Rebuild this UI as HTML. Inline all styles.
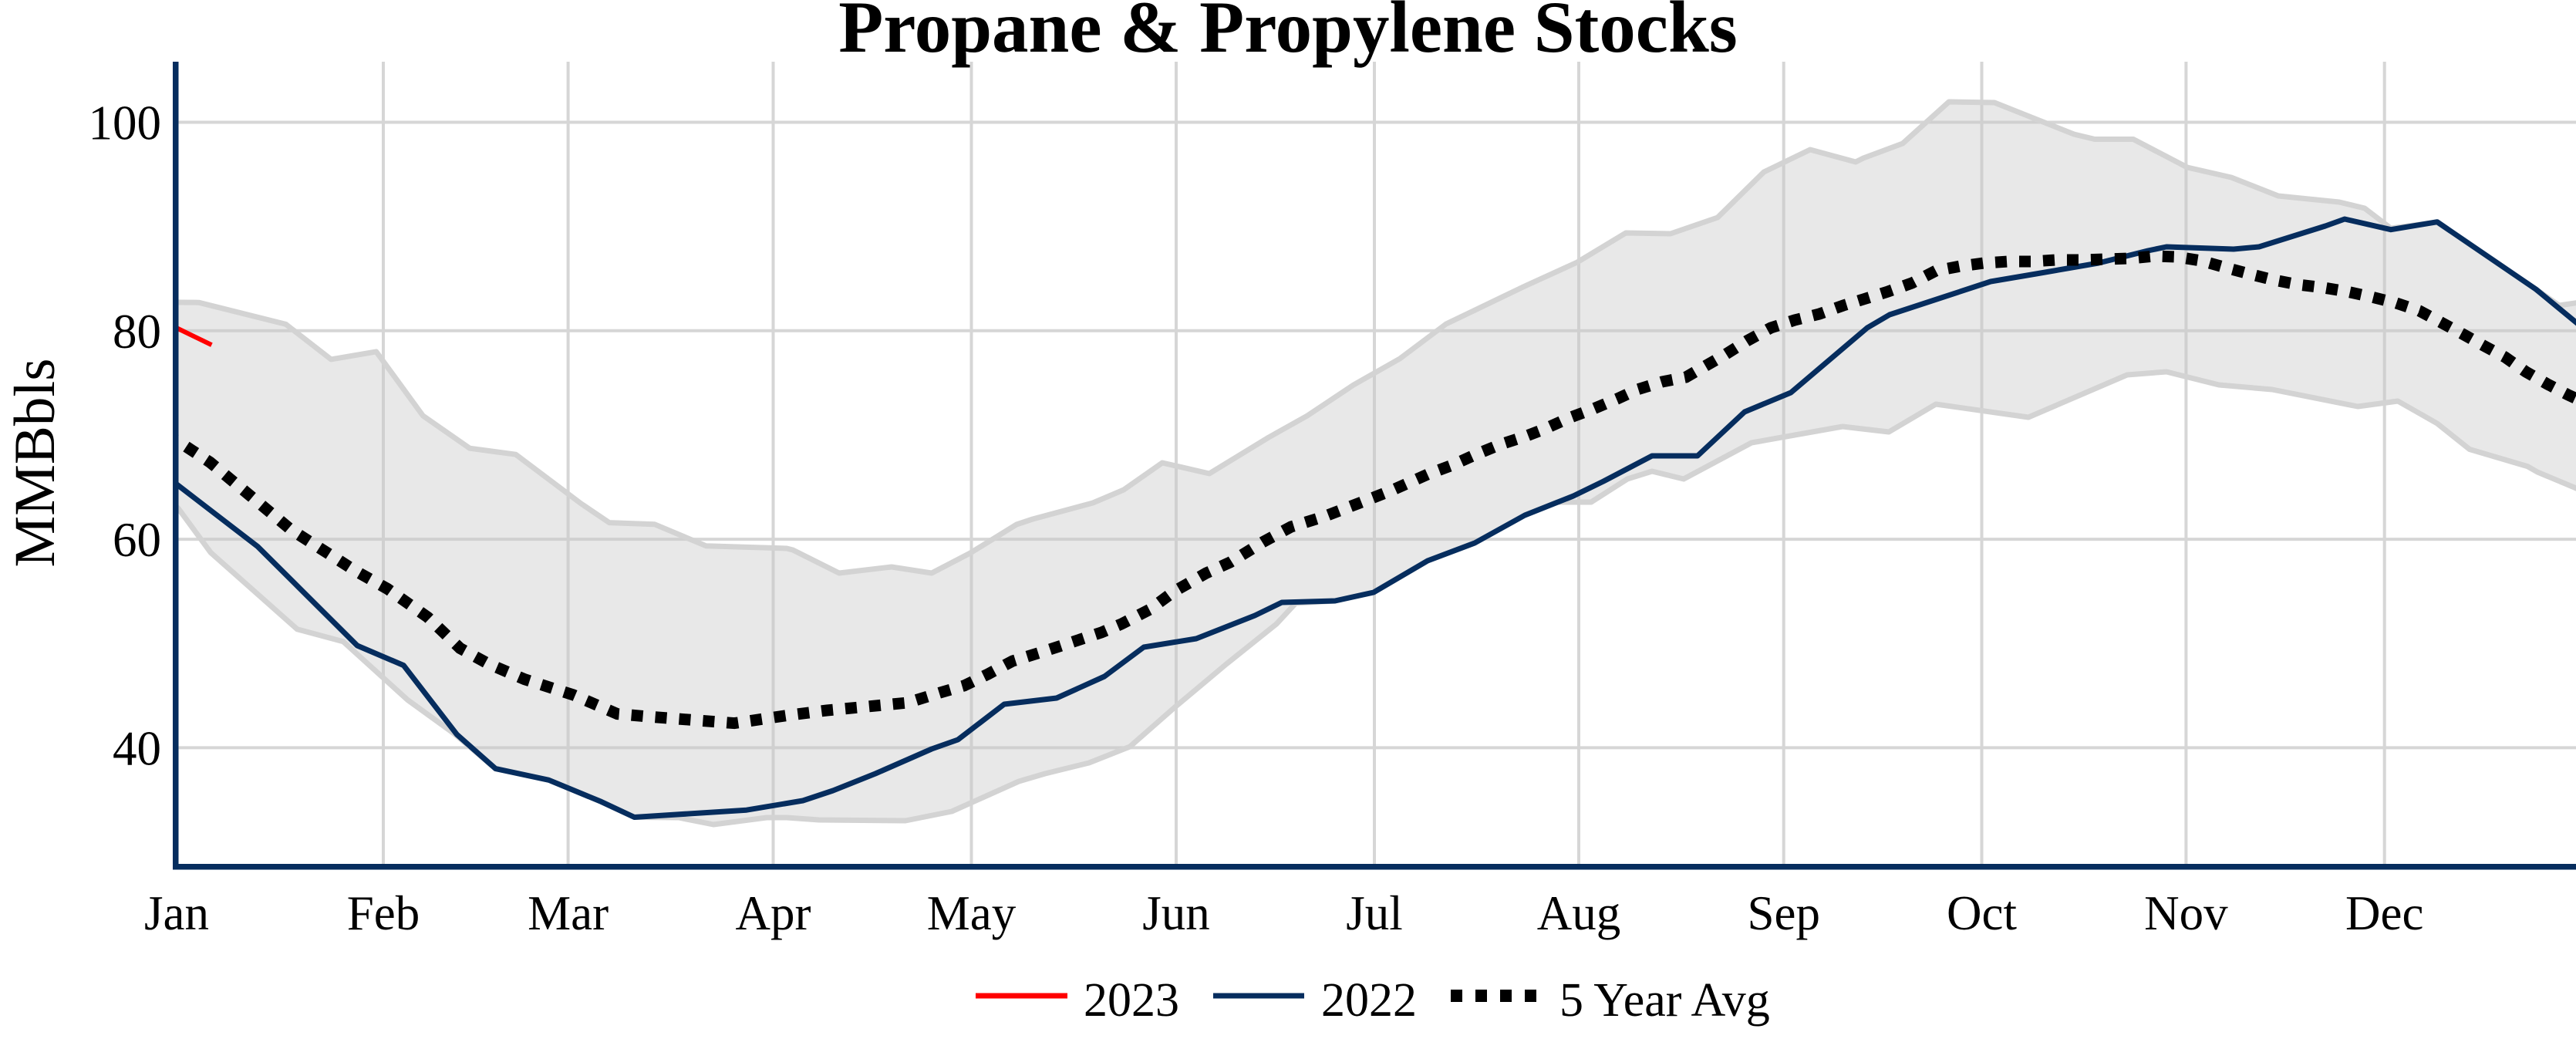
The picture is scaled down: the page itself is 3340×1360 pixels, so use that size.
<!DOCTYPE html>
<html>
<head>
<meta charset="utf-8">
<style>
html,body{margin:0;padding:0;background:#fff;}
svg{display:block;}
text{font-family:"Liberation Serif","Times New Roman",serif;fill:#000;}
</style>
</head>
<body>
<svg width="3340" height="1360" viewBox="0 0 3340 1360" xmlns="http://www.w3.org/2000/svg">
<defs>
<clipPath id="pa"><rect x="231.5" y="80" width="3108.5" height="1040"/></clipPath>
</defs>
<rect x="0" y="0" width="3340" height="1360" fill="#fff"/>

<!-- title -->
<text x="1670" y="67" font-size="95" font-weight="bold" text-anchor="middle">Propane &amp; Propylene Stocks</text>

<!-- gridlines -->
<g stroke="#d6d6d6" stroke-width="4">
<line x1="497" y1="80" x2="497" y2="1120"/>
<line x1="736.6" y1="80" x2="736.6" y2="1120"/>
<line x1="1002.5" y1="80" x2="1002.5" y2="1120"/>
<line x1="1259.5" y1="80" x2="1259.5" y2="1120"/>
<line x1="1525" y1="80" x2="1525" y2="1120"/>
<line x1="1782" y1="80" x2="1782" y2="1120"/>
<line x1="2047" y1="80" x2="2047" y2="1120"/>
<line x1="2312.7" y1="80" x2="2312.7" y2="1120"/>
<line x1="2569.5" y1="80" x2="2569.5" y2="1120"/>
<line x1="2834.4" y1="80" x2="2834.4" y2="1120"/>
<line x1="3091.7" y1="80" x2="3091.7" y2="1120"/>
<line x1="231" y1="158.5" x2="3340" y2="158.5"/>
<line x1="231" y1="428.8" x2="3340" y2="428.8"/>
<line x1="231" y1="699.1" x2="3340" y2="699.1"/>
<line x1="231" y1="969.4" x2="3340" y2="969.4"/>
</g>

<g clip-path="url(#pa)" fill="none" stroke-linejoin="round">
<!-- band fill -->
<polygon fill="rgba(200,200,200,0.42)" stroke="none" points="220,392 257.7,392.2 370.6,420.4 429.2,465.9 487.8,455.9 548.4,539 609.1,581.2 668.7,589.2 753.5,653 790,677.6 848.6,679.7 915.6,707.8 1020,711 1028,713 1088,743 1156,735 1208,743 1258,717 1318,680 1339,673 1417,652 1457,635 1507,600 1568,614 1645,567 1695,539 1755,499 1815,465 1875,420 1977,371 2045,340 2108,302 2166,303 2227,282 2287,223 2347,194 2406,210 2416,205 2467,186 2527,132 2586,133 2689,174 2716,180.5 2766,180.5 2836,217 2893,230 2954,254 3033,262 3066,270 3100,296 3160,288 3288,375 3318,396 3345,392 3345,635 3290,612 3277,604.6 3202,582.5 3160,549 3109,520 3057,527 2946,505 2877,499 2809,482 2758,486 2630,541 2510,524 2449,560 2389,553 2271,574 2183,621 2142,611 2110,621 2063,651 2019,651 1977,668 1912,704 1851,727 1781,768 1731,779 1680,782 1655,809 1590,861 1522,918 1465,968 1412,989 1355,1003 1321,1013 1234,1052 1174,1064 1062,1063 1020,1060 994,1060 925,1069 880,1060 822.5,1059.5 779.6,1039.4 711.6,1011.3 642.6,996.6 588.7,951 528.6,907.5 444.9,831.7 385.3,815.7 273.3,716.5 231.5,659.6 220,648"/>
<!-- band edges -->
<polyline stroke="#d3d3d3" stroke-width="7" points="220,392 257.7,392.2 370.6,420.4 429.2,465.9 487.8,455.9 548.4,539 609.1,581.2 668.7,589.2 753.5,653 790,677.6 848.6,679.7 915.6,707.8 1020,711 1028,713 1088,743 1156,735 1208,743 1258,717 1318,680 1339,673 1417,652 1457,635 1507,600 1568,614 1645,567 1695,539 1755,499 1815,465 1875,420 1977,371 2045,340 2108,302 2166,303 2227,282 2287,223 2347,194 2406,210 2416,205 2467,186 2527,132 2586,133 2689,174 2716,180.5 2766,180.5 2836,217 2893,230 2954,254 3033,262 3066,270 3100,296 3160,288 3288,375 3318,396 3345,392"/>
<polyline stroke="#d3d3d3" stroke-width="7" points="220,648 231.5,659.6 273.3,716.5 385.3,815.7 444.9,831.7 528.6,907.5 588.7,951 642.6,996.6 711.6,1011.3 779.6,1039.4 822.5,1059.5 880,1060 925,1069 994,1060 1020,1060 1062,1063 1174,1064 1234,1052 1321,1013 1355,1003 1412,989 1465,968 1522,918 1590,861 1655,809 1680,782 1731,779 1781,768 1851,727 1912,704 1977,668 2019,651 2063,651 2110,621 2142,611 2183,621 2271,574 2389,553 2449,560 2510,524 2630,541 2758,486 2809,482 2877,499 2946,505 3057,527 3109,520 3160,549 3202,582.5 3277,604.6 3290,612 3345,635"/>
<!-- 2023 -->
<polyline stroke="#ff0000" stroke-width="6" points="205,413.5 274.4,447.2"/>
<!-- 2022 -->
<polyline stroke="#062d5e" stroke-width="7" points="215,617 334,708.5 463.2,837 523.3,862.6 592.4,952.3 642.6,996.6 711.6,1011.3 779.6,1039.4 822.5,1059.5 967.9,1050.2 1041,1038 1080,1025 1135,1003 1208,971 1242,959 1302,913 1370,905 1432,877 1483,839 1551,828 1627,798 1662,781 1731,779 1781,768 1851,727 1912,704 1977,668 2040,643 2079,624 2142,591 2201,591 2262,534 2322,509 2421,425 2450,408 2581,365 2640,355 2721,341 2785,325 2809,320 2896,323 2929,320 3015,293 3040,284 3100,297.7 3160,287.7 3288,375 3345,422"/>
<!-- 5 year avg -->
<polyline stroke="#000" stroke-width="15" stroke-dasharray="15,16" stroke-linejoin="miter" points="215,563 231.5,572.5 272.3,599.3 324.6,642.8 376.9,686.4 429.2,719.9 460.6,740 502.4,763.4 554.7,800.3 596.6,840.5 633.2,860.6 680.2,880.7 743,900.8 800.5,925.6 847.6,929.6 952.2,937.6 1020,927.6 1072,921 1125,916 1177,911 1219,898 1250,889 1281,874 1313,857 1355,844 1428,820 1454,809 1491,790 1522,767 1564,743 1595,729 1637,703 1674,683 1716,670 1763,652 1804,636 1851,615 1883,603 1914,589 1946,576 1977,566 2003,556 2034,542 2066,530 2097,517 2123,505 2155,495 2186,489 2212,474 2238,459 2265,442 2296,425 2327,415 2359,407 2390,396 2416,388 2448,378 2479,367 2510,351 2542,345 2573,341 2604,339 2634,339 2666,337 2698,337 2730,336 2762,335 2794,332 2822,333 2854,338 2886,347 2916,355 2948,363 2980,369 3013,373 3043,378 3075,385 3107,393 3137,403 3165,418 3193,433 3220,448 3248,463 3275,482 3303,498 3330,512 3345,519"/>
</g>

<!-- axes -->
<line x1="227.75" y1="80" x2="227.75" y2="1127.5" stroke="#062d5e" stroke-width="7.5"/>
<line x1="224" y1="1123.75" x2="3340" y2="1123.75" stroke="#062d5e" stroke-width="7.5"/>

<!-- y tick labels -->
<g font-size="63" text-anchor="end">
<text x="209" y="180.5">100</text>
<text x="209" y="450.8">80</text>
<text x="209" y="721.1">60</text>
<text x="209" y="991.4">40</text>
</g>
<!-- y axis title -->
<text transform="translate(70,600) rotate(-90)" font-size="75" text-anchor="middle">MMBbls</text>

<!-- x tick labels -->
<g font-size="63" text-anchor="middle">
<text x="229" y="1205">Jan</text>
<text x="497" y="1205">Feb</text>
<text x="736.6" y="1205">Mar</text>
<text x="1002.5" y="1205">Apr</text>
<text x="1259.5" y="1205">May</text>
<text x="1525" y="1205">Jun</text>
<text x="1782" y="1205">Jul</text>
<text x="2047" y="1205">Aug</text>
<text x="2312.7" y="1205">Sep</text>
<text x="2569.5" y="1205">Oct</text>
<text x="2834.4" y="1205">Nov</text>
<text x="3091.7" y="1205">Dec</text>
</g>

<!-- legend -->
<line x1="1265" y1="1291" x2="1384" y2="1291" stroke="#ff0000" stroke-width="7"/>
<text x="1405" y="1317" font-size="62">2023</text>
<line x1="1573" y1="1291" x2="1691" y2="1291" stroke="#062d5e" stroke-width="7"/>
<text x="1713" y="1317" font-size="62">2022</text>
<line x1="1881" y1="1291" x2="1992" y2="1291" stroke="#000" stroke-width="16" stroke-dasharray="15,17"/>
<text x="2022" y="1317" font-size="62">5 Year Avg</text>
</svg>
</body>
</html>
